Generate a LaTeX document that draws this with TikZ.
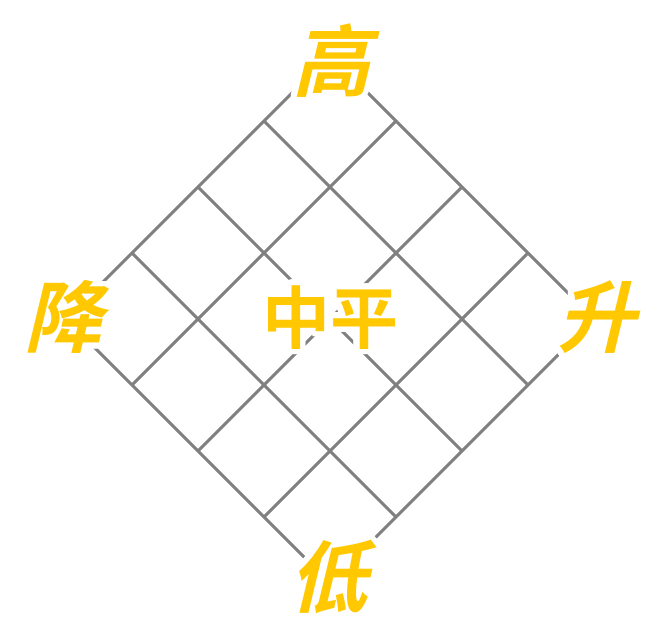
\documentclass[tikz,border=0pt]{standalone}
\usepackage{fontspec}
\usepackage{contour}
\usepackage{tikz}
\usetikzlibrary{calc}
\newfontfamily\cjkslant[FakeSlant=0.24]{Noto Sans CJK SC Bold}
\newfontfamily\cjkupright{Noto Sans CJK SC Bold}
\definecolor{gridgray}{RGB}{128,128,128}
\definecolor{labelgold}{RGB}{255,200,0}
\contourlength{5.5pt}
\contournumber{32}

\begin{document}
\begin{tikzpicture}[x=1pt, y=-1pt,
    gridline/.style={draw=gridgray, line width=3pt},
    cornerlabel/.style={inner sep=0pt, text=labelgold, font=\cjkslant\fontsize{78}{78}\selectfont},
    centerlabel/.style={inner sep=0pt, text=labelgold, font=\cjkupright\fontsize{68}{68}\selectfont}]
    \useasboundingbox (0,0) rectangle (646,628);

    % Corners of the diamond
    \coordinate (L) at (66,319);
    \coordinate (T) at (330,55);
    \coordinate (B) at (330,583);
    \coordinate (R) at (594,319);

    % Draw the grid lines in both directions
    \foreach \i in {0,...,4} {
        \draw[gridline] ($(L)+(66*\i,66*\i)$) -- ($(T)+(66*\i,66*\i)$);
        \draw[gridline] ($(L)+(66*\i,-66*\i)$) -- ($(B)+(66*\i,-66*\i)$);
    }

    % Labels at the corners and in the middle
    \node[cornerlabel] (high) at (331,63) {\contour{white}{高}};
    \node[cornerlabel] (low) at (328,580) {\contour{white}{低}};
    \node[cornerlabel] (down) at (63,320) {\contour{white}{降}};
    \node[cornerlabel] (up) at (596,320) {\contour{white}{升}};
    \node[centerlabel] (mid) at (330,320) {\contour{white}{中平}};

\end{tikzpicture}
\end{document}
